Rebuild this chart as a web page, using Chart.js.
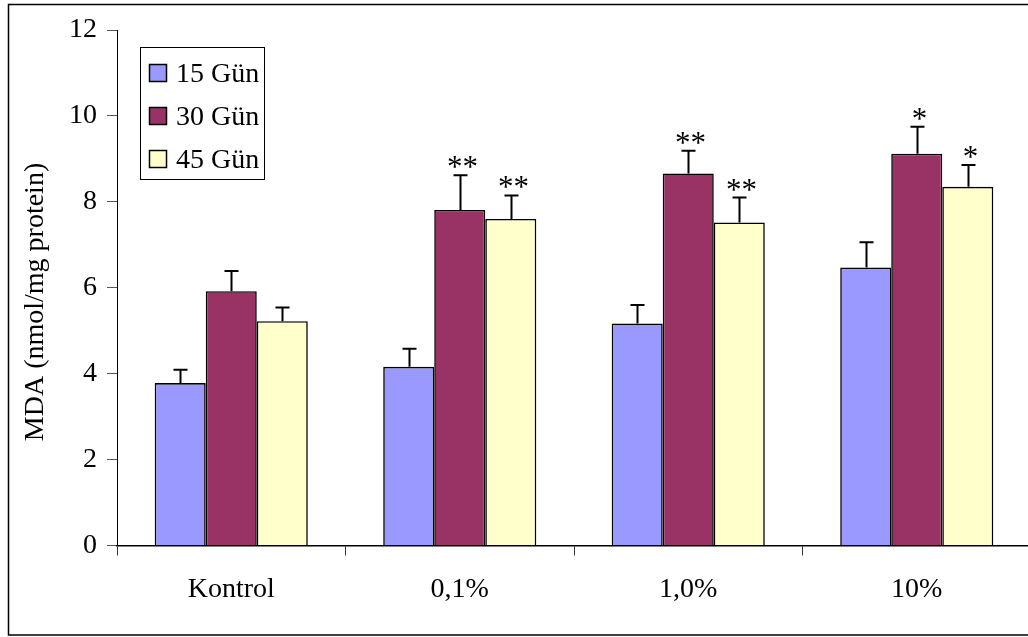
<!DOCTYPE html>
<html>
<head>
<meta charset="utf-8">
<script src="https://cdn.jsdelivr.net/npm/chart.js@4/dist/chart.umd.min.js"></script>
<style>
  html, body { margin: 0; padding: 0; background: #fff; overflow: hidden; }
  canvas { display: block; }
</style>
</head>
<body>
<canvas id="c" width="1050" height="637"></canvas>
<script>
// Doses and exposure times
const categories = ['Kontrol', '0,1%', '1,0%', '10%'];
const seriesLabels = ['15 Gün', '30 Gün', '45 Gün'];

// Mean MDA (nmol/mg protein)
const mda15 = [3.78, 4.16, 5.17, 6.47];
const mda30 = [5.92, 7.81, 8.66, 9.12];
const mda45 = [5.22, 7.60, 7.52, 8.35];

// Standard deviation (upper error bar)
const sd15 = [0.31, 0.42, 0.43, 0.59];
const sd30 = [0.47, 0.81, 0.53, 0.63];
const sd45 = [0.32, 0.55, 0.58, 0.51];

// Significance markers
const sig15 = ['', '', '', ''];
const sig30 = ['', '**', '**', '*'];
const sig45 = ['', '**', '**', '*'];

const yTicks = [0, 2, 4, 6, 8, 10, 12];
const yTitle = 'MDA (nmol/mg protein)';

const colors = ['#9999FF', '#993366', '#FFFFCC'];
const FONT = '"Liberation Serif", "Times New Roman", serif';
const FS = 28;

const errors = [sd15, sd30, sd45];
const marks = [sig15, sig30, sig45];

const errorBars = {
  id: 'errorBars',
  afterDatasetsDraw(chart) {
    const ctx = chart.ctx;
    const y = chart.scales.y;
    ctx.save();
    chart.data.datasets.forEach((ds, di) => {
      const meta = chart.getDatasetMeta(di);
      meta.data.forEach((bar, i) => {
        const top = y.getPixelForValue(ds.data[i] + errors[di][i]);
        const x = Math.round(bar.x) + 0.5;
        ctx.strokeStyle = '#000';
        ctx.lineWidth = 2;
        ctx.beginPath();
        ctx.moveTo(x, bar.y);
        ctx.lineTo(x, top);
        ctx.moveTo(x - 7, top);
        ctx.lineTo(x + 7, top);
        ctx.stroke();
        const m = marks[di][i];
        if (m) {
          ctx.fillStyle = '#000';
          ctx.font = '31px ' + FONT;
          ctx.textAlign = 'center';
          ctx.textBaseline = 'alphabetic';
          ctx.fillText(m, x + 2, top + 2);
        }
      });
    });
    ctx.restore();
  }
};

const frame = {
  id: 'frame',
  afterDraw(chart) {
    const ctx = chart.ctx;
    ctx.save();
    // outer border
    ctx.strokeStyle = '#000';
    ctx.lineWidth = 1.5;
    ctx.strokeRect(8.5, 4.5, 1100, 630.5);

    // y axis title
    ctx.fillStyle = '#000';
    ctx.font = FS + 'px ' + FONT;
    ctx.translate(36, 302);
    ctx.rotate(-Math.PI / 2);
    ctx.textAlign = 'center';
    ctx.textBaseline = 'middle';
    ctx.fillText(yTitle, 0, 0);
    ctx.restore();

    // legend
    ctx.save();
    ctx.fillStyle = '#fff';
    ctx.fillRect(140.5, 47.5, 124, 132);
    ctx.strokeStyle = '#000';
    ctx.lineWidth = 1;
    ctx.strokeRect(140.5, 47.5, 124, 132);
    const rows = [73, 116, 159];
    chart.data.datasets.forEach((ds, i) => {
      const cy = rows[i];
      ctx.fillStyle = ds.backgroundColor;
      ctx.fillRect(149.5, cy - 8.5, 17, 17);
      ctx.strokeStyle = '#000';
      ctx.lineWidth = 1.5;
      ctx.strokeRect(149.5, cy - 8.5, 17, 17);
      ctx.fillStyle = '#000';
      ctx.font = FS + 'px ' + FONT;
      ctx.textAlign = 'left';
      ctx.textBaseline = 'alphabetic';
      ctx.fillText(ds.label, 176, cy + 8.5);
    });
    ctx.restore();
  }
};

new Chart(document.getElementById('c'), {
  type: 'bar',
  data: {
    labels: categories,
    datasets: [
      { label: seriesLabels[0], data: mda15, backgroundColor: colors[0] },
      { label: seriesLabels[1], data: mda30, backgroundColor: colors[1] },
      { label: seriesLabels[2], data: mda45, backgroundColor: colors[2] }
    ]
  },
  options: {
    responsive: false,
    animation: false,
    devicePixelRatio: 1,
    layout: { padding: { top: 30, right: 19, left: 0, bottom: 0 } },
    datasets: {
      bar: {
        categoryPercentage: 0.67,
        barPercentage: 1.0,
        borderColor: '#000',
        borderWidth: 1.6,
        borderSkipped: 'start'
      }
    },
    plugins: {
      legend: { display: false },
      tooltip: { enabled: false }
    },
    scales: {
      x: {
        afterFit(s) { s.height = 91.5; },
        grid: {
          offset: true,
          drawOnChartArea: false,
          tickLength: 10,
          color: '#333',
          lineWidth: 1
        },
        border: { color: '#000', width: 1.5 },
        ticks: {
          color: '#000',
          padding: 17,
          font: { family: FONT, size: FS }
        }
      },
      y: {
        min: 0,
        max: 12,
        afterFit(s) { s.width = 117; },
        afterBuildTicks(s) { s.ticks = yTicks.map(v => ({ value: v })); },
        grid: {
          drawOnChartArea: false,
          tickLength: 10,
          color: '#555',
          lineWidth: 1
        },
        border: { color: '#000', width: 1 },
        ticks: {
          color: '#000',
          padding: 10,
          font: { family: FONT, size: FS }
        }
      }
    }
  },
  plugins: [errorBars, frame]
});
</script>
</body>
</html>
